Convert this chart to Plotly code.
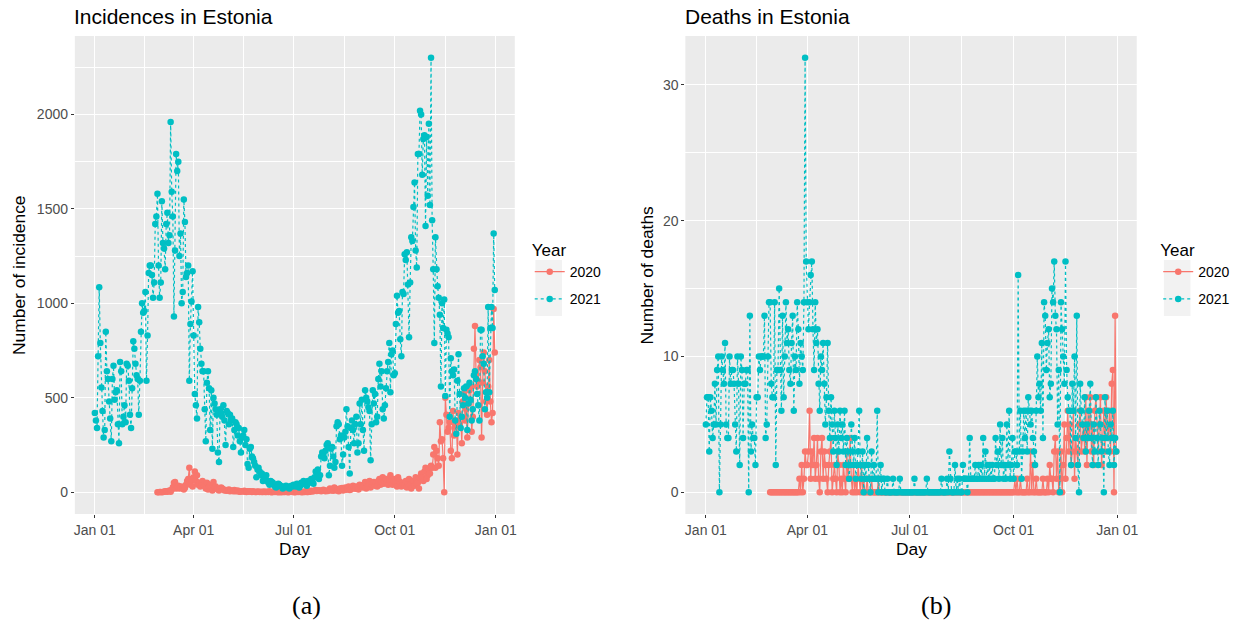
import pandas as pd
import plotly.graph_objects as go

# ---------------- data ----------------
inc_2021 = [
    420, 380, 340, 720, 1085, 790, 555, 430, 290, 330, 850, 640, 600, 480, 390, 270, 600, 670, 490, 530, 540, 360, 260, 690, 640, 360, 400, 460, 370, 680, 670,
    590, 410, 340, 550, 800, 760, 680, 620, 600, 410, 590, 850, 1000, 950, 960, 1060, 590, 830, 1160, 1200, 1200, 1150, 1030, 1110, 1420, 1460, 1580, 1200,
    1030, 1110, 1540, 1320, 1290, 1180, 1420, 1480, 1320, 1360, 1960, 1590, 1460, 930, 1280, 1790, 1700, 1750, 1250, 1370, 1000, 1060, 1550, 1430, 1140, 1160, 1200, 590, 890, 1010, 1170,
    830, 520, 460, 390, 980, 900, 760, 680, 640, 640, 440, 270, 580, 640, 550, 330, 540, 230, 500, 470, 440, 410, 210, 160, 440, 420, 400, 460, 380, 250,
    430, 420, 360, 410, 380, 390, 240, 330, 370, 360, 300, 340, 270, 210, 290, 300, 330, 250, 280, 150, 130, 230, 240, 190, 180, 160, 140, 80, 120, 130, 110,
    90, 100, 60, 70, 80, 90, 60, 50, 40, 60, 55, 50, 40, 30, 25, 40, 45, 40, 35, 30, 20, 25, 30, 35, 30, 25, 20, 30, 35, 30,
    40, 35, 30, 45, 40, 25, 35, 50, 45, 60, 55, 40, 35, 60, 50, 55, 70, 60, 45, 80, 110, 100, 120, 70, 90, 190, 210, 200, 180, 220, 250,
    260, 90, 140, 230, 240, 190, 130, 160, 350, 370, 360, 280, 300, 140, 200, 290, 320, 440, 350, 240, 100, 340, 380, 330, 260, 360, 400, 210, 260, 470, 360,
    490, 330, 220, 540, 500, 480, 450, 430, 170, 360, 540, 470, 520, 370, 400, 600, 680, 560, 640, 440, 390, 460, 550, 640, 690, 790, 530, 730, 750, 620,
    630, 890, 1040, 950, 960, 810, 720, 1060, 1050, 1260, 1230, 1270, 1100, 820, 1110, 1350, 1330, 1510, 1640, 1280, 1190, 1790, 1790, 2020, 2000, 1680, 1870, 1890, 1410, 1880, 1570,
    1950, 1520, 2300, 1440, 1180, 790, 1350, 1180, 1090, 1030, 940, 560, 1000, 870, 1020, 510, 860, 840, 820, 400, 710, 640, 620, 650, 380, 310, 590, 730, 520, 340,
    400, 460, 550, 500, 560, 330, 470, 580, 490, 380, 440, 620, 640, 600, 520, 460, 380, 860, 860, 720, 680, 440, 530, 500, 980, 530, 870, 980, 870, 1370, 1070,
]

inc_2020 = [
    0, 0,
    1, 2, 0, 1, 3, 5, 4, 3, 7, 10, 3, 14, 27, 50, 55, 20, 30, 35, 20, 25, 30, 20, 15, 22, 40, 60, 70, 130, 40, 70, 30,
    80, 110, 60, 90, 40, 50, 30, 40, 60, 40, 35, 20, 50, 15, 30, 40, 20, 10, 55, 25, 30, 20, 15, 10, 20, 25, 20, 15, 10, 12,
    8, 10, 15, 5, 10, 8, 6, 12, 5, 7, 10, 4, 3, 6, 5, 4, 8, 3, 2, 5, 4, 6, 3, 2, 5, 3, 1, 2, 4, 3, 2,
    3, 2, 1, 4, 2, 1, 3, 2, 5, 1, 0, 2, 3, 1, 4, 2, 0, 1, 2, 0, 3, 1, 2, 4, 1, 0, 2, 5, 3, 2,
    1, 0, 2, 3, 1, 4, 2, 1, 0, 3, 2, 5, 1, 2, 4, 3, 8, 6, 5, 10, 12, 7, 9, 11, 8, 6, 10, 14, 9, 5, 8,
    7, 12, 20, 10, 15, 8, 25, 18, 10, 12, 5, 20, 15, 22, 10, 18, 25, 14, 20, 30, 12, 15, 28, 35, 22, 18, 30, 25, 15, 40, 30,
    35, 25, 40, 55, 20, 30, 45, 60, 25, 40, 50, 55, 35, 48, 30, 60, 70, 40, 55, 80, 45, 60, 70, 50, 40, 65, 90, 55, 40, 60,
    70, 55, 30, 80, 60, 45, 30, 50, 40, 35, 60, 25, 45, 70, 40, 20, 55, 60, 35, 80, 45, 50, 20, 75, 100, 80, 60, 110, 130, 70, 90,
    120, 100, 140, 130, 200, 240, 130, 220, 180, 140, 370, 270, 280, 180, 0, 500, 410, 320, 340, 370, 220, 180, 430, 300, 350, 380, 200, 420, 360, 400,
    260, 480, 520, 380, 440, 290, 470, 540, 560, 320, 400, 760, 880, 620, 560, 590, 700, 660, 290, 580, 740, 640, 480, 410, 560, 700, 480, 370, 420, 970, 740,
]

deaths_2021 = [
    5, 7, 7, 3, 7, 6, 4, 5, 8, 5, 9, 10, 0, 5, 10, 9, 8, 11, 5, 4, 4, 10, 8, 9, 9, 8, 5, 3, 10, 8, 2,
    10, 9, 4, 8, 8, 9, 9, 0, 13, 3, 5, 4, 4, 2, 7, 7, 10, 9, 10, 10, 10, 13, 4, 5, 10, 14, 14, 8,
    7, 7, 14, 2, 9, 9, 15, 9, 6, 13, 7, 10, 14, 11, 12, 9, 8, 11, 13, 6, 10, 9, 14, 12, 8, 11, 10, 9, 14, 32, 17,
    14, 12, 14, 16, 17, 12, 9, 14, 11, 12, 8, 6, 10, 9, 11, 8, 5, 7, 11, 6, 4, 7, 5, 3, 6, 4, 2, 5, 3, 6,
    4, 5, 3, 6, 2, 4, 3, 1, 2, 5, 3, 2, 4, 1, 2, 3, 6, 2, 1, 3, 0, 2, 1, 4, 2, 1, 0, 3, 1, 2, 1,
    1, 6, 0, 1, 2, 0, 1, 1, 0, 0, 1, 0, 0, 0, 0, 1, 0, 0, 0, 0, 0, 1, 0, 0, 0, 0, 0, 0, 0, 0,
    0, 0, 0, 0, 1, 0, 0, 0, 0, 0, 0, 0, 0, 0, 0, 1, 0, 0, 0, 0, 0, 0, 0, 0, 0, 0, 0, 0, 1, 0, 0,
    0, 0, 1, 0, 3, 1, 0, 0, 0, 2, 0, 1, 0, 1, 0, 0, 2, 1, 1, 1, 0, 1, 4, 1, 1, 1, 1, 2, 1, 1, 2,
    1, 2, 1, 4, 1, 3, 1, 2, 1, 2, 1, 2, 1, 1, 4, 2, 3, 1, 5, 2, 4, 1, 2, 1, 5, 2, 6, 1, 2, 4,
    1, 3, 3, 2, 16, 3, 6, 1, 3, 6, 4, 6, 3, 7, 6, 5, 6, 4, 3, 2, 6, 10, 7, 8, 6, 11, 4, 14, 13, 9, 11,
    12, 7, 8, 15, 14, 17, 13, 12, 5, 9, 0, 14, 12, 10, 8, 17, 9, 7, 6, 6, 2, 8, 6, 10, 4, 13, 2, 0, 8, 6,
    5, 4, 7, 3, 5, 4, 6, 8, 4, 2, 5, 3, 7, 4, 2, 6, 5, 3, 4, 0, 7, 4, 6, 3, 2, 5, 4, 6, 2, 4, 3,
]

deaths_2020 = [
    0, 0,
    0, 0, 0, 0, 0, 0, 0, 0, 0, 0, 0, 0, 0, 0, 0, 0, 0, 0, 0, 0, 0, 0, 0, 0, 1, 0, 2, 0, 1, 3, 2,
    2, 3, 6, 1, 3, 2, 4, 1, 2, 4, 1, 0, 3, 4, 1, 3, 2, 1, 0, 2, 3, 4, 0, 1, 2, 1, 0, 3, 2, 0,
    1, 0, 2, 1, 0, 3, 1, 2, 4, 1, 0, 2, 0, 1, 0, 2, 1, 0, 2, 0, 1, 0, 0, 1, 0, 0, 0, 1, 0, 0, 0,
    0, 0, 1, 0, 0, 0, 0, 0, 0, 0, 0, 0, 0, 0, 0, 0, 0, 0, 0, 0, 0, 0, 0, 0, 0, 0, 0, 0, 0, 0,
    0, 0, 0, 0, 0, 0, 0, 0, 0, 0, 0, 0, 0, 0, 0, 0, 0, 0, 0, 0, 0, 0, 0, 0, 0, 0, 0, 0, 0, 0, 0,
    0, 0, 0, 0, 0, 0, 0, 0, 0, 0, 0, 0, 0, 0, 0, 0, 0, 0, 0, 0, 0, 0, 0, 0, 0, 0, 0, 0, 0, 0, 0,
    0, 0, 0, 0, 0, 0, 0, 0, 0, 0, 0, 0, 0, 0, 0, 0, 0, 0, 0, 0, 0, 0, 0, 0, 0, 0, 0, 0, 0, 0,
    0, 1, 0, 1, 0, 0, 1, 0, 0, 0, 0, 0, 1, 0, 0, 3, 0, 2, 0, 0, 1, 0, 0, 0, 0, 0, 1, 0, 0, 0, 1,
    0, 2, 1, 1, 0, 3, 4, 1, 3, 0, 1, 3, 0, 2, 5, 1, 4, 6, 3, 5, 2, 3, 6, 1, 4, 3, 2, 5, 6, 3,
    4, 5, 3, 7, 2, 6, 4, 7, 3, 5, 2, 6, 7, 4, 3, 5, 7, 2, 4, 6, 3, 7, 5, 4, 6, 3, 8, 9, 0, 13, 3,
]

# day of year mapped onto a common calendar year
days_2021 = pd.date_range("2021-01-01", periods=len(inc_2021), freq="D")
days_2020 = pd.date_range("2021-02-27", periods=len(inc_2020), freq="D")

tick_vals = ["2021-01-01", "2021-04-01", "2021-07-01", "2021-10-01", "2022-01-01"]
tick_text = ["Jan 01", "Apr 01", "Jul 01", "Oct 01", "Jan 01"]
minor_vals = ["2021-02-15", "2021-05-16 12:00", "2021-08-16", "2021-11-16"]
years = ["2020", "2021"]

# ---------------- style ----------------
W, H = 1246, 626
RED, TEAL = "#F8766D", "#00BFC4"
PANEL = "#EBEBEB"
FONT = "Liberation Sans"

def xf(px):
    return px / W

def yf(py):
    return 1 - py / H

x0d = pd.Timestamp("2021-01-01")
span = pd.Timedelta(days=364)
xrange_ = [x0d - span * 0.05, x0d + span * 1.05]

fig = go.Figure()

def add(x, y, name, color, dash, xa, ya, leg):
    fig.add_trace(go.Scatter(
        x=x, y=y, name=name, mode="lines+markers",
        line=dict(color=color, width=1.2, dash=dash),
        marker=dict(color=color, size=6.5),
        xaxis=xa, yaxis=ya, legend=leg, legendgroup=leg + name,
    ))

add(days_2020, inc_2020, years[0], RED, "solid", "x", "y", "legend")
add(days_2021, inc_2021, years[1], TEAL, "dot", "x", "y", "legend")
add(days_2020, deaths_2020, years[0], RED, "solid", "x2", "y2", "legend2")
add(days_2021, deaths_2021, years[1], TEAL, "dot", "x2", "y2", "legend2")

axis_common = dict(
    showline=False, zeroline=False, gridcolor="white", gridwidth=1.1,
    ticks="outside", ticklen=3, tickcolor="#333333", tickwidth=1,
    tickfont=dict(family=FONT, size=14, color="#4D4D4D"),
)

xaxis_common = dict(
    axis_common, type="date", range=xrange_, tickmode="array",
    tickvals=tick_vals, ticktext=tick_text,
    minor=dict(tickvals=minor_vals, showgrid=True, gridcolor="white", gridwidth=0.5, ticks=""),
)

legend_common = dict(
    xanchor="left", yanchor="top", bgcolor="rgba(0,0,0,0)", tracegroupgap=6,
    title=dict(text="Year", font=dict(family=FONT, size=17, color="black")),
    font=dict(family=FONT, size=14, color="black"), itemwidth=30,
)

fig.update_layout(
    width=W, height=H, autosize=False,
    margin=dict(l=0, r=0, t=0, b=0),
    paper_bgcolor="white", plot_bgcolor=PANEL,
    showlegend=True,
    xaxis=dict(xaxis_common, domain=[xf(74), xf(515)], anchor="y"),
    yaxis=dict(axis_common, domain=[yf(514), yf(36)], anchor="x",
               range=[-115, 2415], tickvals=[0, 500, 1000, 1500, 2000],
               minor=dict(tickvals=[250, 750, 1250, 1750, 2250], showgrid=True,
                          gridcolor="white", gridwidth=0.5, ticks="")),
    xaxis2=dict(xaxis_common, domain=[xf(686), xf(1138.5)], anchor="y2"),
    yaxis2=dict(axis_common, domain=[yf(514), yf(36)], anchor="x2",
                range=[-1.6, 33.6], tickvals=[0, 10, 20, 30],
                minor=dict(tickvals=[5, 15, 25], showgrid=True,
                           gridcolor="white", gridwidth=0.5, ticks="")),
    legend=dict(legend_common, x=xf(530), y=yf(234)),
    legend2=dict(legend_common, x=xf(1160), y=yf(234)),
)

# legend key backgrounds
for lx in (535.7, 1165.7):
    fig.add_shape(type="rect", xref="paper", yref="paper",
                  x0=xf(lx), x1=xf(lx + 26.6), y0=yf(316), y1=yf(260),
                  fillcolor="#F2F2F2", line=dict(width=0), layer="above")

def ann(text, x, y, size, xanchor="left", angle=0, family=FONT, color="black"):
    fig.add_annotation(text=text, x=xf(x), y=yf(y), xref="paper", yref="paper",
                       xanchor=xanchor, yanchor="middle", showarrow=False,
                       textangle=angle, font=dict(family=family, size=size, color=color))

ann("Incidences in Estonia", 71, 17, 21)
ann("Deaths in Estonia", 684, 17, 21)
ann("Day", (74 + 515) / 2, 549, 17.4, xanchor="center")
ann("Day", (686 + 1138.5) / 2, 549, 17.4, xanchor="center")
ann("Number of incidence", 18, 275, 17.4, xanchor="center", angle=-90)
ann("Number of deaths", 648, 275, 17.4, xanchor="center", angle=-90)
ann("(a)", 306, 605, 26, xanchor="center", family="Liberation Serif")
ann("(b)", 937, 605, 26, xanchor="center", family="Liberation Serif")

fig.write_html("out.html")
